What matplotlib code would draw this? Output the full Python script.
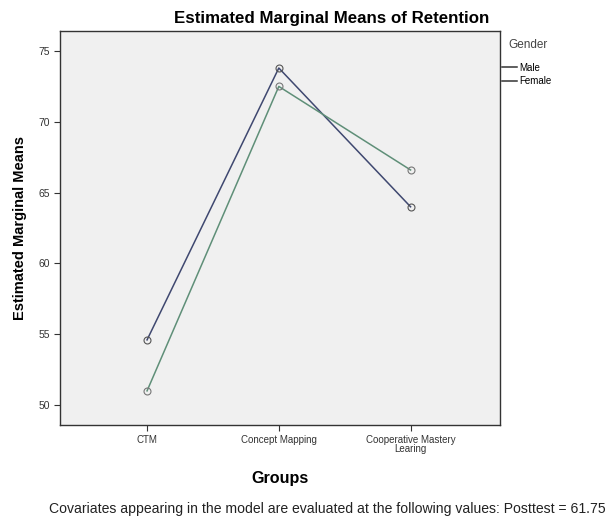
import numpy as np
from matplotlib import pyplot as plt

plt.rcParams['font.family'] = ['Liberation Sans', 'DejaVu Sans']

groups = ['CTM', 'Concept Mapping', 'Cooperative Mastery\nLearing']
male = [54.6, 73.8, 64.0]
female = [51.0, 72.5, 66.6]
yticks = [50, 55, 60, 65, 70, 75]

fig = plt.figure(figsize=(6.07, 5.2), dpi=100)
ax = fig.add_axes([0.099, 0.183, 0.725, 0.757])
ax.set_facecolor('#f0f0f0')

x = np.arange(len(groups))
male_line, = ax.plot(x, male, color='#3f4870', lw=1.1, marker='o', ms=5,
                     mfc='none', mec='#555555', mew=0.8)
female_line, = ax.plot(x, female, color='#5f8f78', lw=1.1, marker='o', ms=5,
                       mfc='none', mec='#777777', mew=0.8)

ax.set_xlim(-0.66, 2.68)
ax.set_ylim(48.6, 76.4)
ax.set_xticks(x)
ax.set_xticklabels(groups, fontsize=7, linespacing=0.9)
ax.set_yticks(yticks)
ax.set_yticklabels([str(v) for v in yticks], fontsize=7.5)
ax.tick_params(length=4, width=0.8, color='#333333', labelcolor='#333333')
for s in ax.spines.values():
    s.set_color('#333333')
    s.set_linewidth(1.0)

fig.text(0.547, 0.965, 'Estimated Marginal Means of Retention', fontsize=12.2,
         fontweight='bold', ha='center', va='center')
ax.set_ylabel('Estimated Marginal Means', fontsize=10.5, fontweight='bold',
              labelpad=8)
ax.set_xlabel('Groups', fontsize=11.6, fontweight='bold', labelpad=12)

fig.text(0.838, 0.914, 'Gender', fontsize=8.5, color='#444444', va='center')
leg = ax.legend([male_line, female_line], ['Male', 'Female'],
                loc='upper left', bbox_to_anchor=(0.995, 0.93),
                frameon=False, fontsize=7, handlelength=1.6,
                handletextpad=0.2, labelspacing=0.35, borderaxespad=0)
for h in leg.legend_handles:
    h.set_marker('')
    h.set_color('#333333')

fig.text(0.997, 0.014, 'Covariates appearing in the model are evaluated at the '
         'following values: Posttest = 61.75', fontsize=10.1, ha='right',
         color='#222222')

fig.savefig('out.png', dpi=100)
